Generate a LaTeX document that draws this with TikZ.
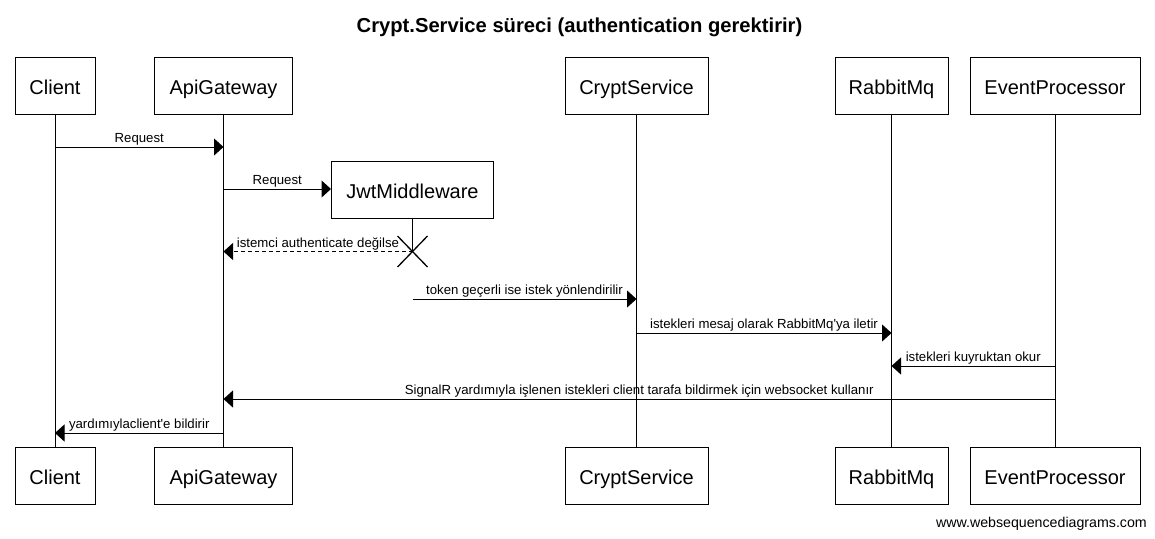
\documentclass[tikz,border=0pt]{standalone}
\usepackage{fontspec}
\setmainfont{Liberation Sans}[Ligatures=TeXOff]
\usetikzlibrary{arrows.meta}
\begin{document}
\begin{tikzpicture}[x=1pt,y=-1pt,
  pbox/.style={draw, line width=1pt, inner sep=0pt, minimum height=57pt,
    font=\fontsize{20}{24}\selectfont, text height=17pt, text depth=0pt},
  msgline/.style={line width=1pt, -{Triangle[length=9.5pt,width=17pt]}},
  msgtext/.style={font=\fontsize{13.2}{15}\selectfont, anchor=base, inner sep=0pt, yshift=4.3pt},
  life/.style={line width=1pt}]
\useasboundingbox (0,0) rectangle (1155,538);
% title
\node[anchor=base, inner sep=0pt, font=\bfseries\fontsize{20.2}{24}\selectfont] (title) at (579.5,32) {Crypt.Service süreci (authentication gerektirir)};
% top participants
\node[pbox, minimum width=80pt] (c) at (55,85.5) {Client};
\node[pbox, minimum width=138pt] (g) at (223.5,85.5) {ApiGateway};
\node[pbox, minimum width=143pt] (s) at (636.5,85.5) {CryptService};
\node[pbox, minimum width=113pt] (r) at (891.5,85.5) {RabbitMq};
\node[pbox, minimum width=170pt] (e) at (1055,85.5) {EventProcessor};
\node[pbox, minimum width=162pt] (j) at (412.5,190) {JwtMiddleware};
% bottom participants
\node[pbox, minimum width=80pt] (cb) at (55,475.5) {Client};
\node[pbox, minimum width=138pt] (gb) at (223.5,475.5) {ApiGateway};
\node[pbox, minimum width=143pt] (sb) at (636.5,475.5) {CryptService};
\node[pbox, minimum width=113pt] (rb) at (891.5,475.5) {RabbitMq};
\node[pbox, minimum width=170pt] (eb) at (1055,475.5) {EventProcessor};
% lifelines
\draw[life] (c.south) -- (cb.north);
\draw[life] (g.south) -- (gb.north);
\draw[life] (s.south) -- (sb.north);
\draw[life] (r.south) -- (rb.north);
\draw[life] (e.south) -- (eb.north);
\coordinate (jx) at (412.5,251.5);
\draw[life] (j.south) -- (jx);
\draw[line width=1.3pt] ([shift={(-15,-15.5)}]jx) -- ([shift={(15,15.5)}]jx);
\draw[line width=1.3pt] ([shift={(-15,15.5)}]jx) -- ([shift={(15,-15.5)}]jx);
% rows
\coordinate (r1) at (0,147);
\coordinate (r2) at (0,189);
\coordinate (r4) at (0,299);
\coordinate (r5) at (0,333);
\coordinate (r6) at (0,366);
\coordinate (r7) at (0,399);
\coordinate (r8) at (0,433);
\coordinate (jt) at (jx |- r4);
% messages
\draw[msgline] (c |- r1) -- node[msgtext] {Request} (g |- r1);
\draw[msgline] (g |- r2) -- node[msgtext] {Request} (j.west |- r2);
\draw[msgline, dash pattern=on 4pt off 3pt] (jx) -- node[msgtext] {istemci authenticate değilse} (g |- jx);
\draw[msgline] (jt) -- node[msgtext] {token geçerli ise istek yönlendirilir} (s |- r4);
\draw[msgline] (s |- r5) -- node[msgtext] {istekleri mesaj olarak RabbitMq'ya iletir} (r |- r5);
\draw[msgline] (e |- r6) -- node[msgtext] {istekleri kuyruktan okur} (r |- r6);
\draw[msgline] (e |- r7) -- node[msgtext] {SignalR yardımıyla işlenen istekleri client tarafa bildirmek için websocket kullanır} (g |- r7);
\draw[msgline] (g |- r8) -- node[msgtext] {yardımıylaclient'e bildirir} (c |- r8);
% watermark
\node[anchor=base east, inner sep=0pt, font=\fontsize{14.2}{16}\selectfont] (wm) at (1147,527) {www.websequencediagrams.com};
\end{tikzpicture}
\end{document}
